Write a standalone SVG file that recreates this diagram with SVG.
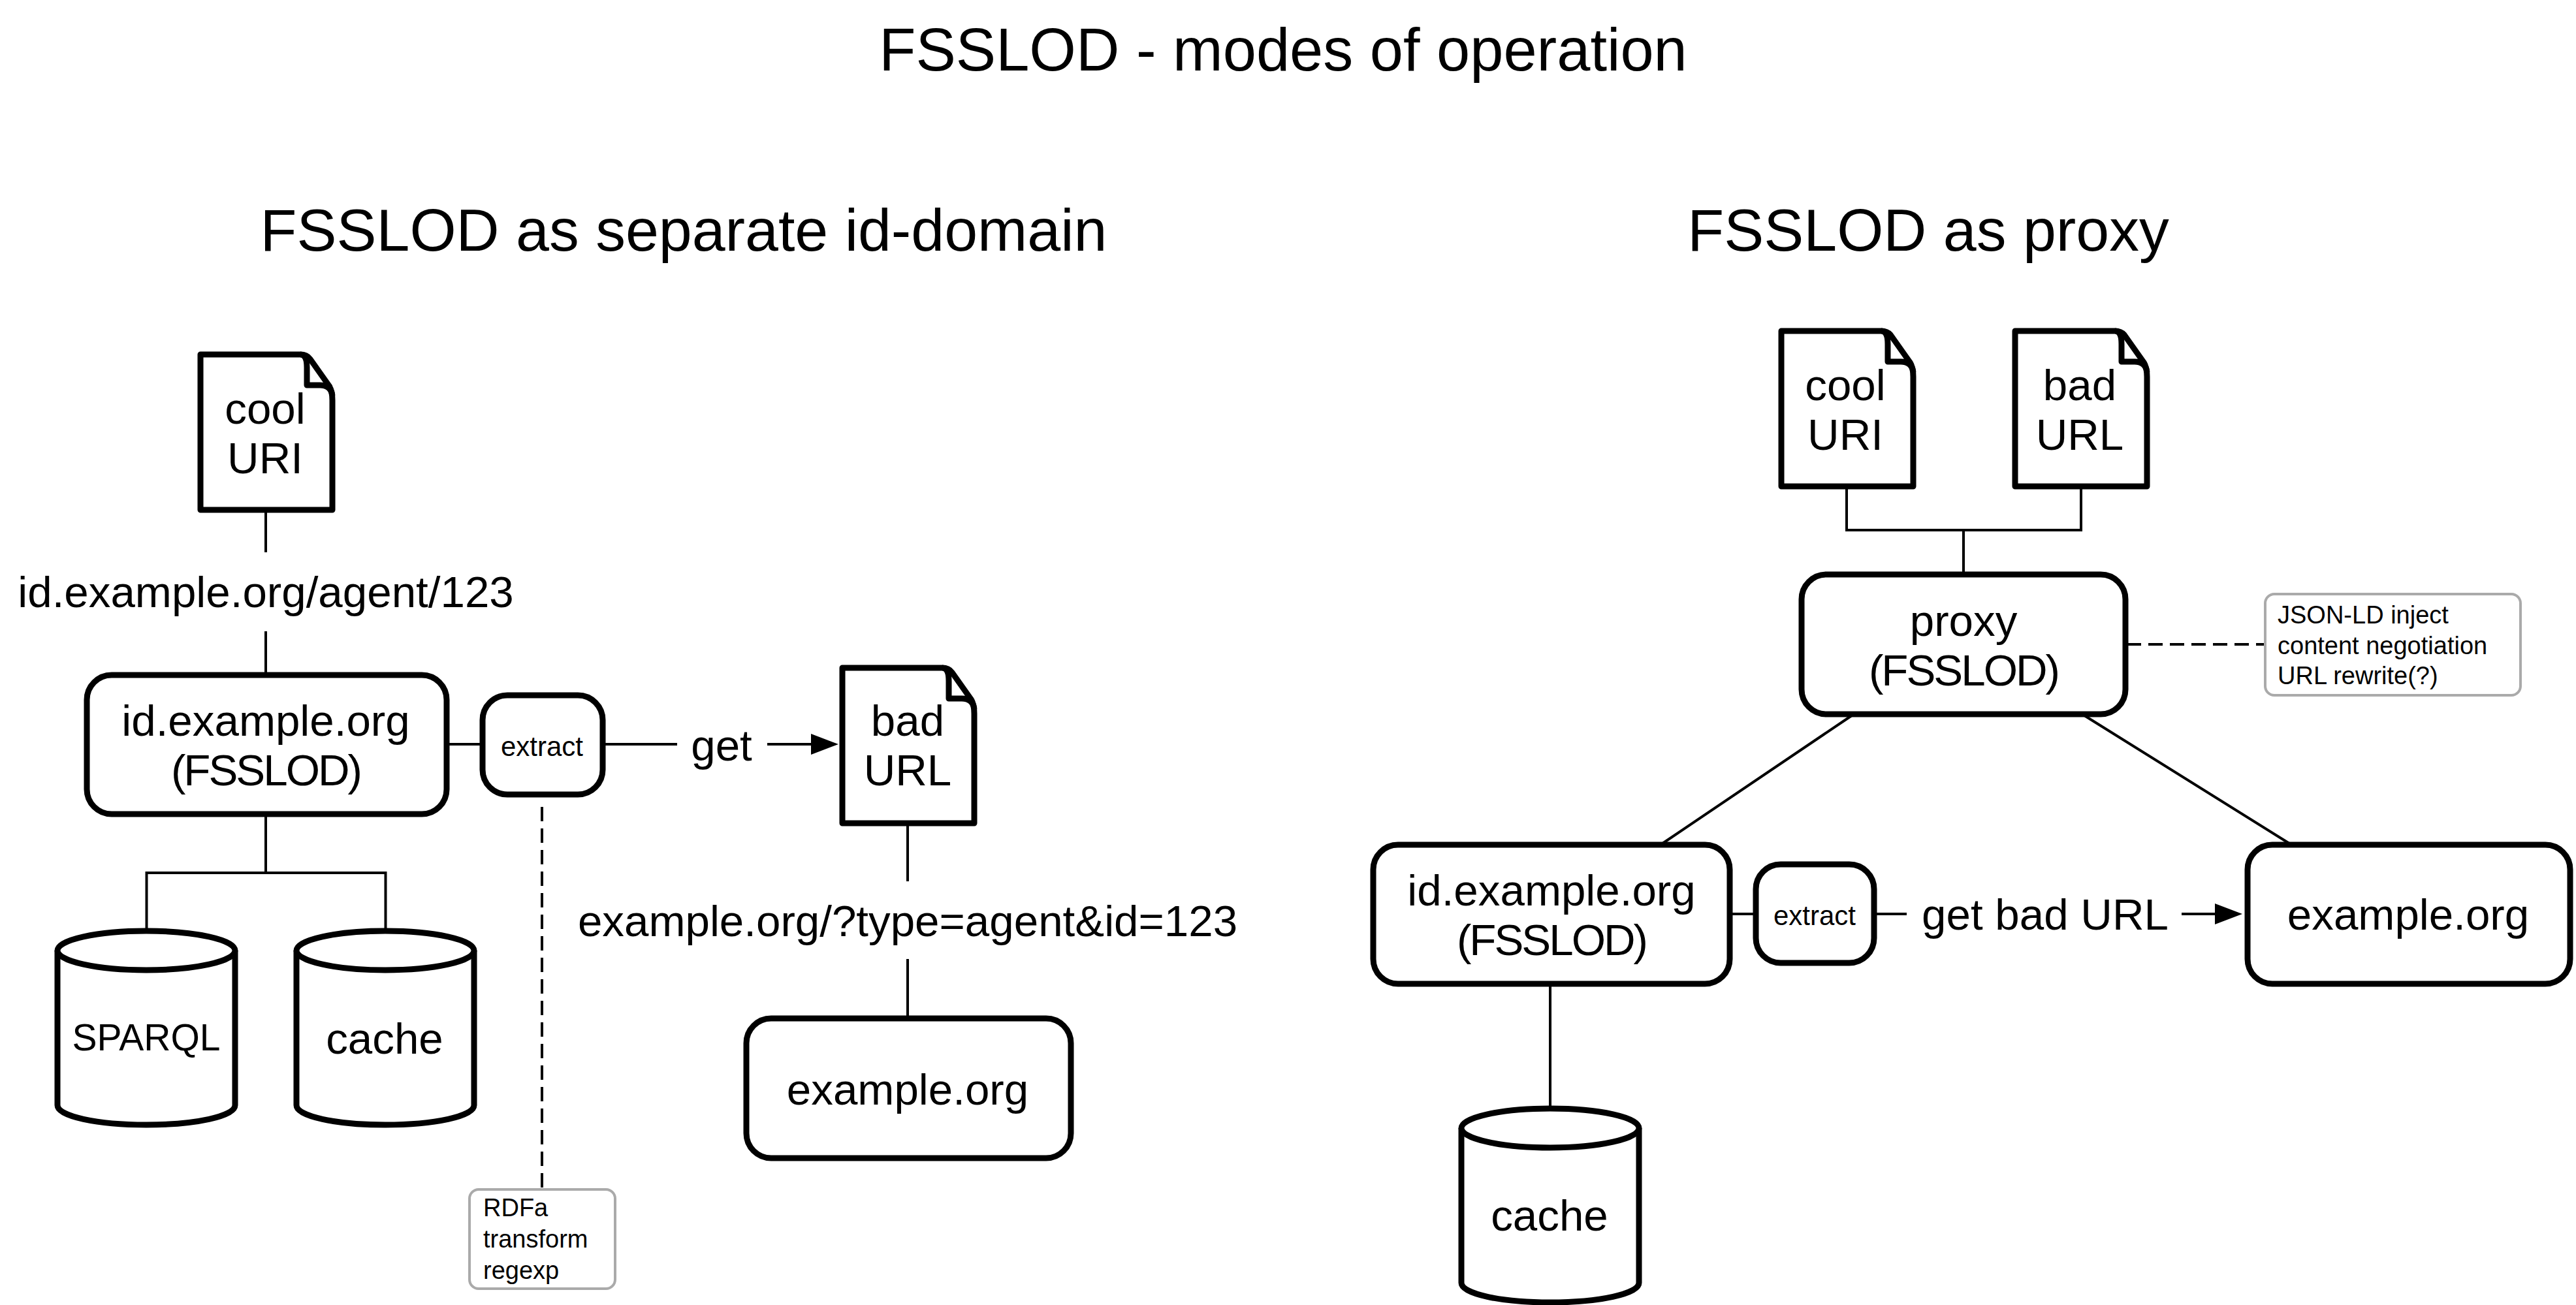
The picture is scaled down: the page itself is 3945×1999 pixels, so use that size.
<svg xmlns="http://www.w3.org/2000/svg" width="3945" height="1999" viewBox="0 0 3945 1999">
<style>
text{font-family:"Liberation Sans",Arial,sans-serif;fill:#000;text-anchor:middle}
.t{font-size:92px}.h{font-size:91.500px}.l{font-size:67.300px}.s{font-size:42px}.n{font-size:38px;text-anchor:start}
.f{letter-spacing:-3px}
.b{fill:#fff;stroke:#000;stroke-width:9;stroke-linejoin:round}
.c{fill:none;stroke:#000;stroke-width:4}
.d{fill:none;stroke:#000;stroke-width:4;stroke-dasharray:22 11}
.g{fill:#fff;stroke:#aaa;stroke-width:4}
</style>
<defs>
<marker id="a" markerUnits="userSpaceOnUse" markerWidth="42" markerHeight="32" refX="0" refY="16" orient="auto"><path d="M0 0L42 16L0 32z" fill="#000"/></marker>
<g id="doc"><path class="b" d="M0 0H153Q163 0 168 7L197 48Q202 56 202 70V238H0z"/><path class="b" d="M153 0Q163 0 163 20V47H183Q200 47 202 63"/></g>
<g id="cyl"><path class="b" d="M0 30V267C0 284 61 297 136 297S272 284 272 267V30"/><ellipse class="b" cx="136" cy="30" rx="136" ry="30"/></g>
</defs>
<text class="t" x="1965" y="108">FSSLOD - modes of operation</text>
<text class="h" x="1047" y="384">FSSLOD as separate id-domain</text>
<text class="h" x="2953" y="384">FSSLOD as proxy</text>
<g id="connectors">
<path class="c" d="M407 783V846M407 967V1034M684 1140H739M923 1140H1037M1390 1261V1350M1390 1469V1558M407 1247V1337M224.500 1426V1337H590.500V1426M2828 747V812H3187V747M3007 812V880M2836 1096L2546 1292M3192 1096L3506 1292M2649 1400H2689M2870 1400H2920M2374 1507V1698"/>
<path class="c" marker-end="url(#a)" d="M1175 1140H1242"/>
<path class="c" marker-end="url(#a)" d="M3341 1400H3392"/>
<path class="d" d="M830 1236V1822"/>
<path class="d" d="M3257 987H3469"/>
</g>
<g id="cool1"><use href="#doc" x="307" y="543"/><text class="l" x="406" y="649">cool</text><text class="l" x="406" y="725">URI</text></g>
<text id="label-agent" class="l" x="407" y="930">id.example.org/agent/123</text>
<g id="fsslod1"><rect class="b" x="133" y="1034" width="551" height="213" rx="38"/><text class="l" x="407" y="1127">id.example.org</text><text class="l f" x="407" y="1203">(FSSLOD)</text></g>
<g id="extract1"><rect class="b" x="739" y="1065" width="184" height="152" rx="38"/><text class="s" x="830" y="1158">extract</text></g>
<text id="label-get" class="l" x="1105" y="1165">get</text>
<g id="bad1"><use href="#doc" x="1290" y="1023"/><text class="l" x="1390" y="1127">bad</text><text class="l" x="1390" y="1203">URL</text></g>
<text id="label-type" class="l" x="1390" y="1434">example.org/?type=agent&amp;id=123</text>
<g id="origin1"><rect class="b" x="1143" y="1560" width="497" height="214" rx="38"/><text class="l" x="1390" y="1692">example.org</text></g>
<g id="sparql"><use href="#cyl" x="88" y="1426"/><text class="l" style="font-size:57px" x="224" y="1609">SPARQL</text></g>
<g id="cache1"><use href="#cyl" x="454" y="1426"/><text class="l" x="589" y="1614">cache</text></g>
<g id="note1"><rect class="g" x="719" y="1822" width="223" height="152" rx="14"/><text class="n" x="740" y="1863">RDFa</text><text class="n" x="740" y="1911">transform</text><text class="n" x="740" y="1959">regexp</text></g>
<g id="cool2"><use href="#doc" x="2728" y="507"/><text class="l" x="2826" y="613">cool</text><text class="l" x="2826" y="689">URI</text></g>
<g id="bad2"><use href="#doc" x="3086" y="507"/><text class="l" x="3185" y="613">bad</text><text class="l" x="3185" y="689">URL</text></g>
<g id="proxy"><rect class="b" x="2759" y="880" width="496" height="214" rx="38"/><text class="l" x="3007" y="974">proxy</text><text class="l f" x="3007" y="1050">(FSSLOD)</text></g>
<g id="note2"><rect class="g" x="3469" y="910" width="391" height="155" rx="14"/><text class="n" x="3488" y="955">JSON-LD inject</text><text class="n" x="3488" y="1002">content negotiation</text><text class="n" x="3488" y="1048">URL rewrite(?)</text></g>
<g id="fsslod2"><rect class="b" x="2103" y="1294" width="546" height="213" rx="38"/><text class="l" x="2376" y="1387">id.example.org</text><text class="l f" x="2376" y="1463">(FSSLOD)</text></g>
<g id="extract2"><rect class="b" x="2689" y="1324" width="181" height="151" rx="38"/><text class="s" x="2779" y="1417">extract</text></g>
<text id="label-getbad" class="l" x="3132" y="1424">get bad URL</text>
<g id="origin2"><rect class="b" x="3442" y="1294" width="494" height="213" rx="38"/><text class="l" x="3688" y="1424">example.org</text></g>
<g id="cache2"><use href="#cyl" x="2238" y="1698"/><text class="l" x="2373" y="1885">cache</text></g>
</svg>
